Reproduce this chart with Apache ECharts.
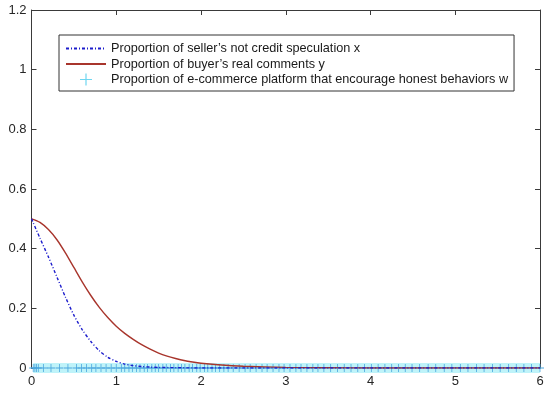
<!DOCTYPE html>
<html>
<head>
<meta charset="utf-8">
<script src="https://cdn.jsdelivr.net/npm/echarts@6/dist/echarts.min.js"></script>
<style>html,body{margin:0;padding:0;background:#fff}#c{width:550px;height:395px}</style>
</head>
<body>
<div id="c"></div>
<script>
// time points and values
var tX = [0,0.1,0.2,0.3,0.4,0.5,0.6,0.7,0.8,0.9,1.0,1.1,1.2,1.3,1.4,1.5,1.7,2.0,2.5,3,3.5,4,4.5,5,5.5,6];
var xVals = [0.5,0.435,0.372,0.305,0.238,0.177,0.128,0.089,0.058,0.036,0.022,0.013,0.008,0.005,0.003,0.002,0.001,0,0,0,0,0,0,0,0,0];
var tY = [0,0.1,0.2,0.3,0.4,0.5,0.6,0.7,0.8,0.9,1.0,1.1,1.2,1.3,1.4,1.5,1.6,1.7,1.8,1.9,2.0,2.2,2.5,3,3.5,4,4.5,5,5.5,6];
var yVals = [0.5,0.488,0.464,0.43,0.386,0.337,0.288,0.243,0.203,0.169,0.14,0.116,0.096,0.078,0.063,0.05,0.04,0.032,0.025,0.02,0.016,0.011,0.006,0.002,0.001,0,0,0,0,0];
var tW = [0.02,0.04,0.06,0.08,0.14,0.23,0.33,0.43,0.53,0.59,0.65,0.71,0.76,0.82,0.88,0.94,1.0,1.06,
  1.1,1.15,1.19,1.24,1.28,1.33,1.37,1.42,1.46,1.5,1.55,1.59,1.64,1.68,1.73,1.77,1.81,1.86,1.9,1.95,1.99,2.04,2.08,2.13,2.17,2.22,2.27,2.32,
  2.38,2.45,2.52,2.58,2.65,2.72,2.78,2.85,2.92,2.98,3.05,3.12,3.18,3.25,3.32,3.38,3.45,
  3.53,3.61,3.69,3.77,3.85,3.93,4.01,4.09,4.17,4.25,4.33,4.41,4.49,
  4.58,4.68,4.77,4.87,4.96,5.06,5.15,5.25,5.34,5.44,5.53,5.63,5.72,5.81,5.9,6.0];
var wVals = tW.map(function(){return 0;});
var xTicks = [0,1,2,3,4,5,6];
var yTicks = [0,0.2,0.4,0.6,0.8,1,1.2];

var names = ["Proportion of seller\u2019s not credit speculation x",
             "Proportion of buyer\u2019s real comments y",
             "Proportion of e-commerce platform that encourage honest behaviors w"];

function pairs(t, v){ return t.map(function(ti,i){return [ti, v[i]];}); }

var plusPath = 'path://M-0.1,-1H0.1V-0.1H1V0.1H0.1V1H-0.1V0.1H-1V-0.1H-0.1Z';
var axisColor = '#3a3a3a';
var font = 'Liberation Sans, Arial, sans-serif';

var chart = echarts.init(document.getElementById('c'), null, {renderer:'canvas'});
chart.setOption({
  animation: false,
  backgroundColor: '#fff',
  grid: {left: 31.5, right: 10, top: 10, bottom: 27, containLabel: false},
  xAxis: [{
    type: 'value', min: 0, max: 6, interval: 1,
    axisLine: {show: true, onZero: false, lineStyle: {color: axisColor, width: 1}},
    axisTick: {show: true, inside: true, length: 5, lineStyle: {color: axisColor}},
    axisLabel: {color: '#262626', fontSize: 13, fontFamily: font, margin: 7},
    splitLine: {show: false}
  },{
    type: 'value', min: 0, max: 6, interval: 1, position: 'top',
    axisLine: {show: true, onZero: false, lineStyle: {color: axisColor, width: 1}},
    axisTick: {show: true, inside: true, length: 5, lineStyle: {color: axisColor}},
    axisLabel: {show: false}, splitLine: {show: false}
  }],
  yAxis: [{
    type: 'value', min: 0, max: 1.2, interval: 0.2,
    axisLine: {show: true, onZero: false, lineStyle: {color: axisColor, width: 1}},
    axisTick: {show: true, inside: true, length: 5, lineStyle: {color: axisColor}},
    axisLabel: {color: '#262626', fontSize: 13, fontFamily: font, margin: 5,
      formatter: function(v){ return String(Math.round(v*10)/10); }},
    splitLine: {show: false}
  },{
    type: 'value', min: 0, max: 1.2, interval: 0.2, position: 'right',
    axisLine: {show: true, onZero: false, lineStyle: {color: axisColor, width: 1}},
    axisTick: {show: true, inside: true, length: 5, lineStyle: {color: axisColor}},
    axisLabel: {show: false}, splitLine: {show: false}
  }],
  legend: {
    orient: 'vertical', left: 59, top: 35,
    backgroundColor: '#fff', borderColor: '#333', borderWidth: 1,
    padding: [6, 6, 4, 6], itemGap: 0.5, itemWidth: 40, itemHeight: 12,
    textStyle: {color: '#1a1a1a', fontSize: 12.7, lineHeight: 15, fontFamily: font},
    data: [
      {name: names[0], itemStyle: {opacity: 0}},
      {name: names[1], itemStyle: {opacity: 0}},
      {name: names[2], icon: plusPath, itemStyle: {color: '#6fd6f0', opacity: 1}}
    ]
  },
  series: [
    {
      name: names[2], type: 'line', data: pairs(tW, wVals),
      symbol: plusPath, symbolSize: 8, showSymbol: true,
      itemStyle: {color: '#4aa6de'},
      lineStyle: {color: '#bff3f9', width: 10},
      z: 1
    },
    {
      name: names[1], type: 'line', data: pairs(tY, yVals),
      smooth: 0.25, symbol: 'none',
      itemStyle: {color: '#a8352c'},
      lineStyle: {color: '#a8352c', width: 1.4},
      z: 3
    },
    {
      name: names[0], type: 'line', data: pairs(tX, xVals),
      smooth: 0.25, symbol: 'none',
      itemStyle: {color: '#1c1ccc'},
      lineStyle: {color: '#1c1ccc', width: 1.4, type: [3, 2, 1, 2]},
      z: 4
    }
  ]
});
</script>
</body>
</html>
